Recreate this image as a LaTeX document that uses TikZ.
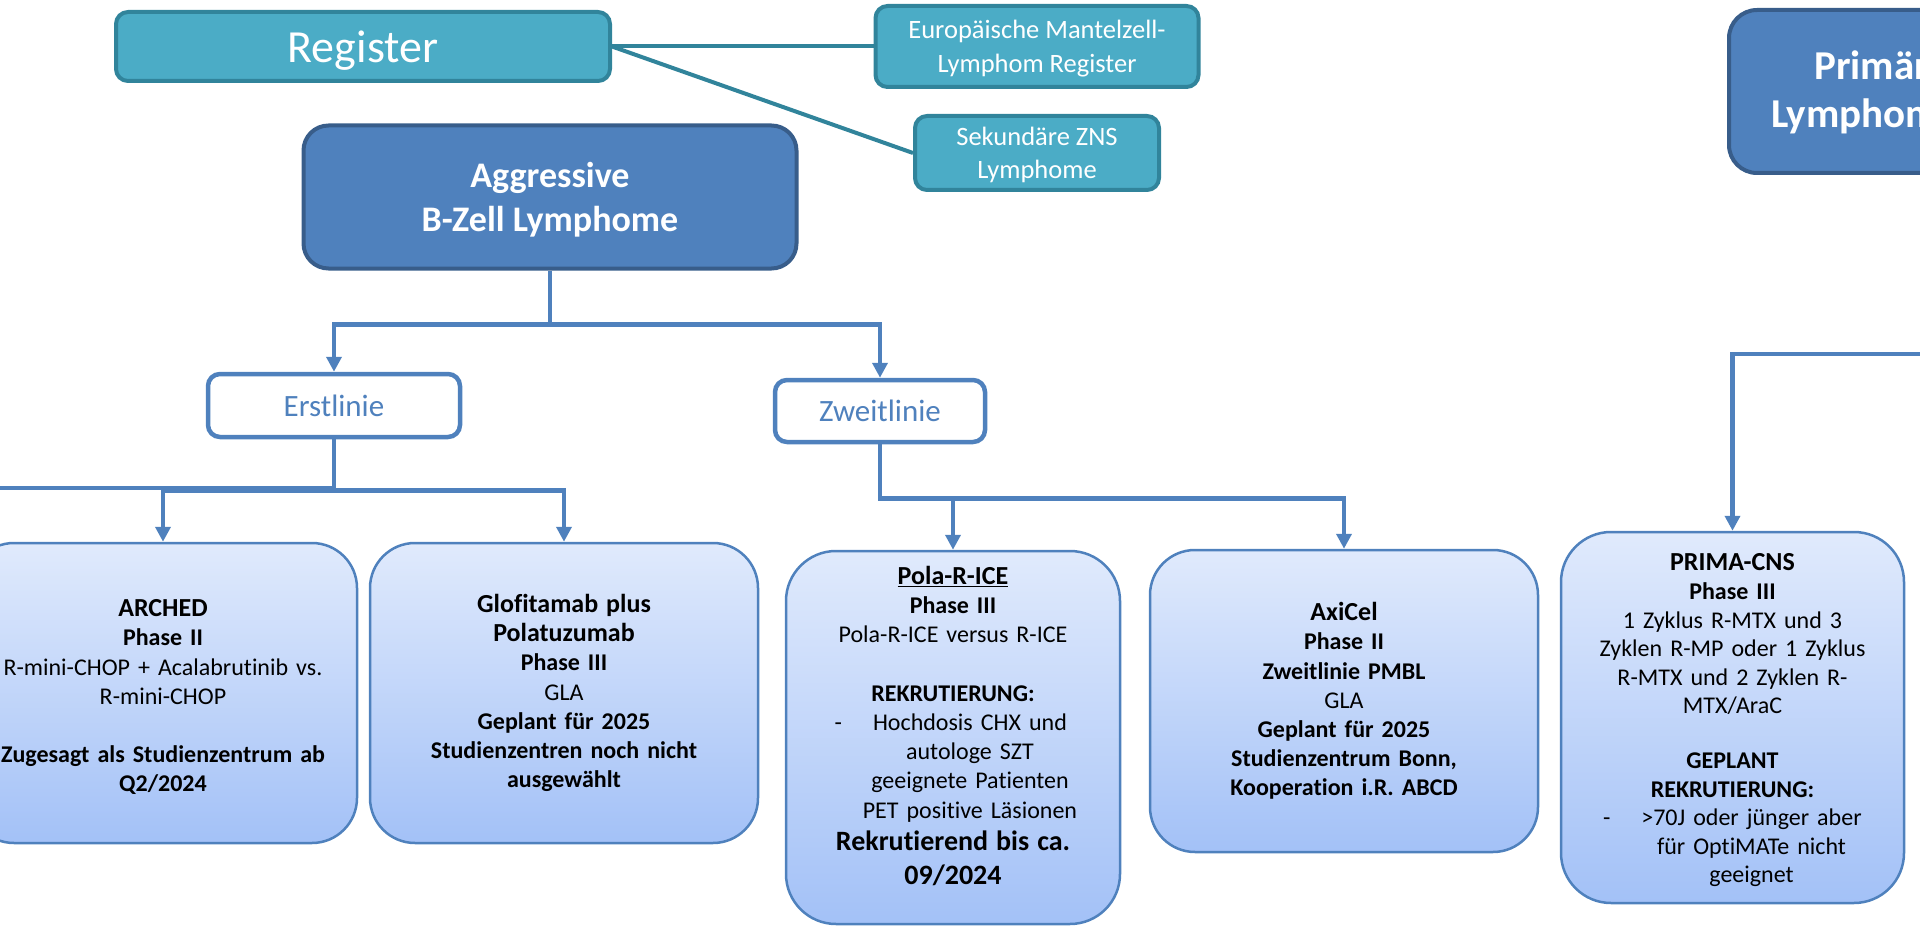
\documentclass[tikz,border=0pt]{standalone}
\usepackage{fontspec}
\setmainfont{Carlito}[Ligatures=NoCommon]
\usetikzlibrary{arrows.meta,positioning}
\definecolor{aqua}{rgb}{0.29412, 0.67451, 0.77647}
\definecolor{regteal}{rgb}{0.19216, 0.51765, 0.60784}
\definecolor{steel}{rgb}{0.30980, 0.50588, 0.74118}
\definecolor{navy}{rgb}{0.21961, 0.36471, 0.54118}
\definecolor{pale}{rgb}{0.87843, 0.91765, 0.98824}
\definecolor{sky}{rgb}{0.63922, 0.75686, 0.96863}

% Line strut of the slide font, for the vertical centering.
\newcommand{\hs}{\rule[-0.269em]{0pt}{1.221em}}
\newcommand{\oben}[1]{\rule{0pt}{#1}}
\newcommand{\titel}[1]{{\fontsize{26}{29}\selectfont\bfseries #1}}
\newcommand{\gross}[1]{{\fontsize{28}{33}\selectfont\bfseries #1}}
\newcommand{\strich}{\makebox[0pt][r]{-\hspace{31pt}}}

\begin{document}
\begin{tikzpicture}[x=1pt, y=-1pt,
    register/.style={draw=regteal, line width=4pt, fill=aqua, rounded corners=12pt, text=white, align=center},
    kopf/.style={draw=navy, line width=4pt, fill=steel, rounded corners=25pt, text=white, align=center,
      font=\fontsize{36}{44}\selectfont\bfseries},
    linie/.style={draw=steel, line width=4.5pt, fill=white, rounded corners=12pt, text=steel,
      font=\fontsize{31}{37}\selectfont},
    studie/.style={draw=steel, line width=2.5pt, rounded corners=45pt, top color=pale, bottom color=sky,
      align=center, font=\fontsize{24}{29.2}\selectfont},
    conn/.style={draw=steel, line width=4.5pt},
    pfeil/.style={conn, -{Triangle[width=15pt,length=15pt]}},
    regline/.style={draw=regteal, line width=4pt}]
	\useasboundingbox (0,0) rectangle (1920,928);

	% Registers at the top.
	\node[register, minimum width=494pt, minimum height=69pt, font=\fontsize{46}{50}\selectfont] (reg) at (363,46.5) {\hs Register\hs};
	\node[register, minimum width=323pt, minimum height=81pt, font=\fontsize{26.5}{31}\selectfont] (eur) at (1037,46.5)
		{\hs Europäische Mantelzell-\\Lymphom Register\hs};
	\node[register, minimum width=244pt, minimum height=74pt, font=\fontsize{26.5}{31}\selectfont] (sek) at (1037,153)
		{\hs Sekundäre ZNS\\Lymphome\hs};
	\draw[regline] (reg.east) -- (eur.west);
	\draw[regline] (reg.east) -- (sek.west);

	% Main groups.
	\node[kopf, minimum width=493pt, minimum height=143pt] (aggr) at (550,197) {\hs Aggressive\\B-Zell Lymphome\hs};
	\node[kopf, minimum width=431pt, minimum height=163pt, rounded corners=28pt] (primaer) at (1944.5,91.5) {};
	\node[anchor=base west, text=white, font=\fontsize{41}{48}\selectfont\bfseries, inner sep=0pt] (primA) at (1814,80) {Primäre};
	\node[anchor=base west, text=white, font=\fontsize{41}{48}\selectfont\bfseries, inner sep=0pt] (primB) at (1771,128) {Lymphome};

	% Lines of therapy.
	\node[linie, minimum width=252pt, minimum height=63pt] (erst) at (334,405.5) {\hs Erstlinie\hs};
	\node[linie, minimum width=210pt, minimum height=62pt] (zweit) at (880,411) {\hs Zweitlinie\hs};

	% Studies.
	\node[studie, minimum width=388pt, minimum height=300pt, text width=350pt] (arched) at (163,693)
		{\oben{25.5pt}\titel{ARCHED}\\ \textbf{Phase II}\\ R-mini-CHOP + Acalabrutinib vs.\\ R-mini-CHOP\\[29.2pt]
		 \textbf{Zugesagt als Studienzentrum ab}\\ \textbf{Q2/2024}};
	\node[studie, minimum width=388pt, minimum height=300pt, text width=350pt] (glofi) at (564,693)
		{\titel{Glofitamab plus}\\ \titel{Polatuzumab}\\ \textbf{Phase III}\\ GLA\\ \textbf{Geplant für 2025}\\
		 \textbf{Studienzentren noch nicht}\\ \textbf{ausgewählt}};
	\node[studie, minimum width=334pt, minimum height=373pt, rounded corners=50pt, text width=300pt] (pola) at (953,737.5)
		{\titel{\underline{Pola-R-ICE}}\\ \textbf{Phase III}\\ Pola-R-ICE versus R-ICE\\[29.2pt]
		 \textbf{REKRUTIERUNG:}\\ \hspace*{34pt}\strich Hochdosis CHX und\\ \hspace*{34pt}autologe SZT\\
		 \hspace*{34pt}geeignete Patienten\\ \hspace*{34pt}PET positive Läsionen\\[3pt]
		 \gross{Rekrutierend bis ca.}\\[5pt] \gross{09/2024}\vspace{23pt}};
	\node[studie, minimum width=388pt, minimum height=302pt, text width=350pt] (axicel) at (1344,701)
		{\titel{AxiCel}\\ \textbf{Phase II}\\ \textbf{Zweitlinie PMBL}\\ GLA\\ \textbf{Geplant für 2025}\\
		 \textbf{Studienzentrum Bonn,}\\ \textbf{Kooperation i.R. ABCD}};
	\node[studie, minimum width=343pt, minimum height=371pt, rounded corners=50pt, text width=315pt,
		font=\fontsize{24}{28.6}\selectfont] (prima) at (1732.5,717.5)
		{\oben{23pt}\titel{PRIMA-CNS}\\ \textbf{Phase III}\\ 1 Zyklus R-MTX und 3\\ Zyklen R-MP oder 1 Zyklus\\
		 R-MTX und 2 Zyklen R-\\ MTX/AraC\\[26pt] \textbf{GEPLANT}\\ \textbf{REKRUTIERUNG:}\\
		 \hspace*{38pt}\strich >70J oder jünger aber\\ \hspace*{38pt}für OptiMATe nicht\\ \hspace*{38pt}geeignet};

	% Connectors of the tree.
	\coordinate (links) at (-80,488);
	\draw[pfeil] (aggr.south) -- ++(0,54) -| (erst.north);
	\draw[pfeil] (aggr.south) -- ++(0,54) -| (zweit.north);
	\draw[conn] (erst.south) |- (links);
	\draw[pfeil] (erst.south) -- ++(0,51) -| (arched.north);
	\draw[pfeil] (erst.south) -- ++(0,51) -| (glofi.north);
	\draw[pfeil] (zweit.south) -- ++(0,54) -| (pola.north);
	\draw[pfeil] (zweit.south) -- ++(0,54) -| (axicel.north);
	\draw[pfeil] (primaer.south) -- ++(0,179) -| (prima.north);
\end{tikzpicture}
\end{document}
